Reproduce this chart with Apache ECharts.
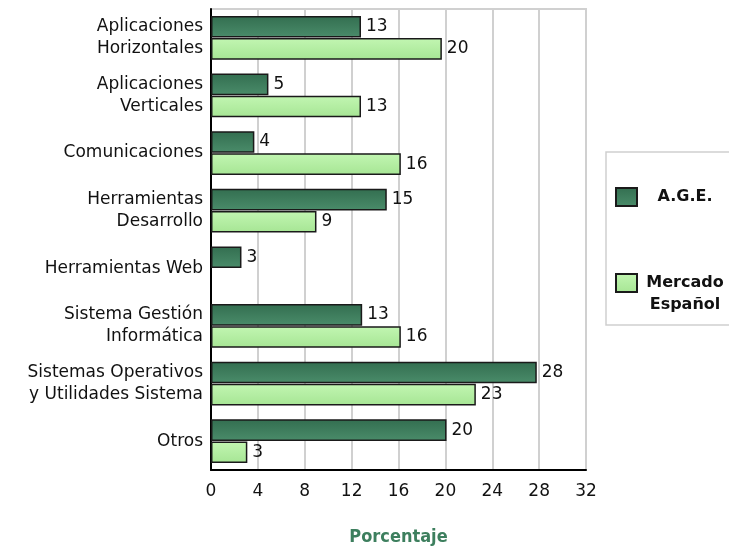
<!DOCTYPE html>
<html>
<head>
<meta charset="utf-8">
<script src="https://cdn.jsdelivr.net/npm/echarts@6/dist/echarts.min.js"></script>
<style>
    html, body { margin: 0; padding: 0; background: #fff; }
    #chart { width: 729px; height: 549px; }
</style>
</head>
<body>
<div id="chart"></div>
<script>
const categories = [
    'Aplicaciones\nHorizontales',
    'Aplicaciones\nVerticales',
    'Comunicaciones',
    'Herramientas\nDesarrollo',
    'Herramientas Web',
    'Sistema Gestión\nInformática',
    'Sistemas Operativos\ny Utilidades Sistema',
    'Otros'
]
const seriesNames = ['A.G.E.', 'Mercado Español']
const ageValues = [12.8, 4.9, 3.7, 15.0, 2.6, 12.9, 27.8, 20.1]
const mercadoValues = [19.7, 12.8, 16.2, 9.0, null, 16.2, 22.6, 3.1]
const xTicks = { min: 0, max: 32, interval: 4 }

const font = 'DejaVu Sans'

const chart = echarts.init(document.getElementById('chart'))

const barLabel = {
    show: true,
    position: 'right',
    distance: 5,
    color: '#111',
    fontFamily: font,
    fontSize: 17,
    formatter: p => Math.round(p.value)
}

const option = {
    animation: false,
    grid: {
        left: 211,
        right: 143,
        top: 9,
        bottom: 79,
        outerBoundsMode: 'none',
        show: true,
        borderColor: '#d0d0d0',
        borderWidth: 2
    },
    legend: {
        orient: 'vertical',
        left: 606,
        top: 152,
        padding: [35, 10, 12, 9],
        itemWidth: 21,
        itemHeight: 18,
        itemGap: 66,
        icon: 'rect',
        borderColor: '#cfcfcf',
        borderWidth: 1.5,
        formatter: name => name === 'A.G.E.' ? '{t|A.G.E.}' : '{t|Mercado}\n{t|Español}',
        textStyle: {
            rich: {
                t: {
                    width: 86,
                    align: 'center',
                    fontFamily: font,
                    fontWeight: 'bold',
                    fontSize: 16,
                    lineHeight: 22,
                    color: '#111'
                }
            }
        },
        data: [
            { name: seriesNames[0] },
            { name: seriesNames[1], textStyle: { padding: [22, 0, 0, 0] } }
        ]
    },
    xAxis: {
        type: 'value',
        min: xTicks.min,
        max: xTicks.max,
        interval: xTicks.interval,
        name: 'Porcentaje',
        nameLocation: 'middle',
        nameGap: 58,
        nameTextStyle: {
            color: '#3d7f5e',
            fontFamily: 'DejaVu Sans Condensed',
            fontWeight: 'bold',
            fontSize: 18
        },
        axisLine: { show: true, lineStyle: { color: '#000', width: 2 } },
        axisTick: { show: false },
        axisLabel: { color: '#111', fontFamily: font, fontSize: 17, margin: 13 },
        splitLine: { show: true, lineStyle: { color: '#d0d0d0', width: 2 } }
    },
    yAxis: {
        type: 'category',
        inverse: true,
        data: categories,
        axisLine: { show: true, lineStyle: { color: '#000', width: 2 } },
        axisTick: { show: false },
        axisLabel: {
            color: '#111',
            fontFamily: font,
            fontSize: 17,
            lineHeight: 22,
            align: 'right',
            margin: 8
        }
    },
    series: [
        {
            name: seriesNames[0],
            type: 'bar',
            data: ageValues,
            barCategoryGap: '24%',
            barGap: '2%',
            itemStyle: {
                color: new echarts.graphic.LinearGradient(0, 0, 0, 1, [
                    { offset: 0, color: '#336e50' },
                    { offset: 1, color: '#4a8c6a' }
                ]),
                borderColor: '#1a1a1a',
                borderWidth: 1.5
            },
            label: barLabel
        },
        {
            name: seriesNames[1],
            type: 'bar',
            data: mercadoValues,
            itemStyle: {
                color: new echarts.graphic.LinearGradient(0, 0, 0, 1, [
                    { offset: 0, color: '#c2f6b2' },
                    { offset: 1, color: '#a6e594' }
                ]),
                borderColor: '#1a1a1a',
                borderWidth: 1.5
            },
            label: barLabel
        }
    ]
}

chart.setOption(option)
</script>
</body>
</html>
